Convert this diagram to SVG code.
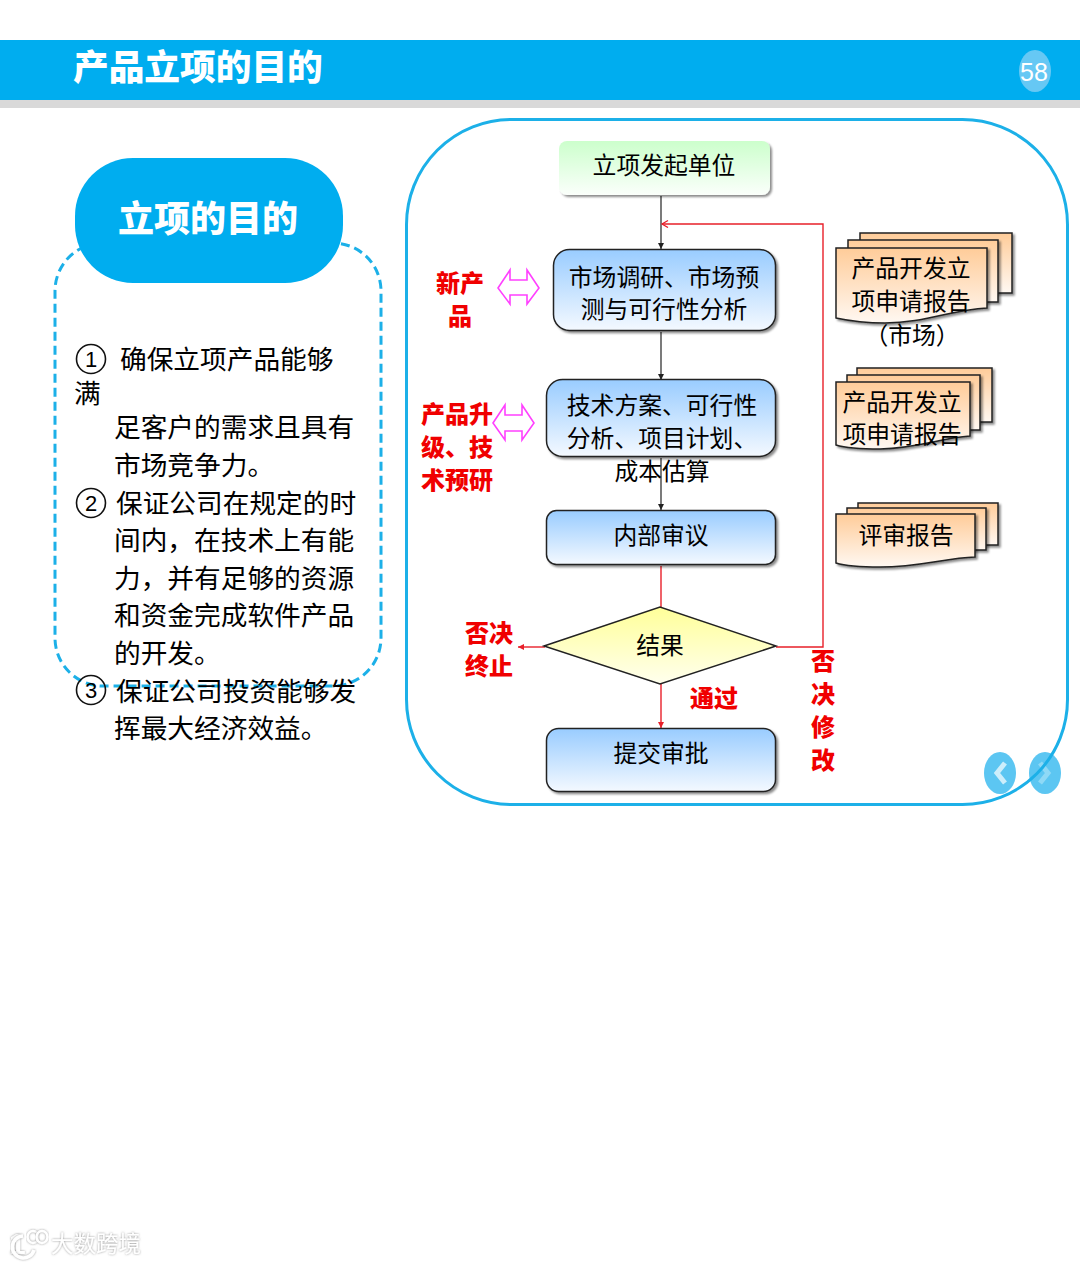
<svg xmlns="http://www.w3.org/2000/svg" width="1080" height="1263" viewBox="0 0 1080 1263">
<defs>
<linearGradient id="blue" x1="0" y1="0" x2="0" y2="1"><stop offset="0" stop-color="#99ccff"/><stop offset="1" stop-color="#f4f9ff"/></linearGradient>
<linearGradient id="green" x1="0" y1="0" x2="0" y2="1"><stop offset="0" stop-color="#ccffcc"/><stop offset="1" stop-color="#fbfffb"/></linearGradient>
<linearGradient id="yellow" x1="0" y1="0" x2="0" y2="1"><stop offset="0" stop-color="#ffff99"/><stop offset="1" stop-color="#ffffee"/></linearGradient>
<linearGradient id="orange" x1="0" y1="0" x2="0" y2="1"><stop offset="0" stop-color="#ffcc99"/><stop offset="1" stop-color="#fff8f2"/></linearGradient>
<marker id="ab" markerUnits="userSpaceOnUse" markerWidth="7" markerHeight="7" refX="6" refY="3" orient="auto"><path d="M0 0L6 3L0 6Z" fill="#222"/></marker>
<marker id="ar" markerUnits="userSpaceOnUse" markerWidth="7" markerHeight="7" refX="6" refY="3" orient="auto"><path d="M0 0L6 3L0 6Z" fill="#e8202a"/></marker>
<marker id="ao" markerUnits="userSpaceOnUse" markerWidth="9" markerHeight="9" refX="7" refY="4" orient="auto"><path d="M1 0.500L7 4L1 7.500" fill="none" stroke="#e8202a" stroke-width="1.3"/></marker>
<filter id="sh" x="-10%" y="-10%" width="120%" height="125%"><feDropShadow dx="2" dy="2" stdDeviation="1.2" flood-color="#000" flood-opacity=".45"/></filter>
<filter id="glow" x="-10%" y="-20%" width="120%" height="140%"><feDropShadow dx="0" dy="0" stdDeviation="1.2" flood-color="#777" flood-opacity=".8"/></filter>
</defs>
<style>
text{font-family:"Noto Sans CJK SC","Liberation Sans",sans-serif;fill:#000}
.n{font-size:26.700px}
.d{font-size:22px;text-anchor:middle;font-family:"Liberation Sans",sans-serif}
.c{fill:none;stroke:#111;stroke-width:1.6}
.b{font-size:23.800px;text-anchor:middle}
.red{font-size:24px;font-weight:900;fill:#f00000;text-anchor:middle}
.box{stroke:#222;stroke-width:1.5;fill:url(#blue);filter:url(#sh)}
.doc{stroke:#222;stroke-width:1.5;fill:url(#orange);filter:url(#sh)}
.pk{fill:#fff;stroke:#ff40ff;stroke-width:1.6}
.cb{stroke:#222;stroke-width:1.2;fill:none}
.cr{stroke:#e8202a;stroke-width:1.4;fill:none}
.wm{fill:#fff;filter:url(#glow)}
</style>
<rect width="1080" height="1263" fill="#fff"/>
<g id="header">
<rect y="40" width="1080" height="60" fill="#00adef"/>
<rect y="100" width="1080" height="8" fill="#d9d9d9"/>
<text x="73" y="80" font-size="35.700" font-weight="900" style="fill:#fff">产品立项的目的</text>
<ellipse cx="1035" cy="71" rx="16" ry="21" fill="#66c8f4"/>
<text x="1034" y="81" font-size="25" text-anchor="middle" style="fill:#fff;font-family:'Liberation Sans',sans-serif">58</text>
</g>
<g id="panel-left">
<rect x="55" y="243" width="326" height="443" rx="48" fill="none" stroke="#1cb0e8" stroke-width="3" stroke-dasharray="9 5"/>
<rect x="75" y="158" width="268" height="125" rx="58" fill="#00adef"/>
<text x="208" y="232" font-size="36" font-weight="900" text-anchor="middle" style="fill:#fff">立项的目的</text>
<circle class="c" cx="91" cy="359" r="14.500"/><text class="d" x="91" y="367">1</text>
<text class="n" x="120" y="369">确保立项产品能够</text>
<text class="n" x="74" y="403">满</text>
<text class="n" x="114" y="437">足客户的需求且具有</text>
<text class="n" x="114" y="475">市场竞争力。</text>
<circle class="c" cx="91" cy="503" r="14.500"/><text class="d" x="91" y="511">2</text>
<text class="n" x="116" y="513">保证公司在规定的时</text>
<text class="n" x="114" y="550">间内，在技术上有能</text>
<text class="n" x="114" y="588">力，并有足够的资源</text>
<text class="n" x="114" y="625">和资金完成软件产品</text>
<text class="n" x="114" y="663">的开发。</text>
<circle class="c" cx="91" cy="690" r="14.500"/><text class="d" x="91" y="698">3</text>
<text class="n" x="116" y="701">保证公司投资能够发</text>
<text class="n" x="114" y="738">挥最大经济效益。</text>
</g>
<g id="nav">
<ellipse cx="1000" cy="773" rx="16" ry="21" fill="#5cc6f2"/><path d="M1005 763L997 773L1005 783" fill="none" stroke="#cdeefb" stroke-width="5"/>
<ellipse cx="1045" cy="773" rx="16" ry="21" fill="#5cc6f2"/><path d="M1040 763L1048 773L1040 783" fill="none" stroke="#8fd9f6" stroke-width="5"/>
</g>
<rect id="panel-right" x="406.500" y="119.500" width="661" height="685" rx="105" fill="none" stroke="#1cb0e8" stroke-width="3"/>
<g id="connectors">
<path class="cb" d="M661 196V249" marker-end="url(#ab)"/>
<path class="cb" d="M661 332V380" marker-end="url(#ab)"/>
<path class="cb" d="M661 458V510" marker-end="url(#ab)"/>
<path class="cr" d="M661 566V607"/>
<path class="cr" d="M661 684V728" marker-end="url(#ar)"/>
<path class="cr" d="M545 647H518" marker-end="url(#ar)"/>
<path class="cr" d="M776 647H823V224H662" marker-end="url(#ao)"/>
</g>
<g id="n-start"><rect x="559" y="141" width="211" height="54" rx="8" fill="url(#green)" filter="url(#sh)"/><text class="b" x="664" y="174">立项发起单位</text></g>
<g id="n-market"><rect class="box" x="553.500" y="249.500" width="222" height="81" rx="16"/><text class="b" x="664" y="286">市场调研、市场预</text><text class="b" x="664" y="318">测与可行性分析</text></g>
<g id="n-tech"><rect class="box" x="546.500" y="379.500" width="229" height="77" rx="16"/><text class="b" x="662" y="414">技术方案、可行性</text><text class="b" x="662" y="447">分析、项目计划、</text><text class="b" x="662" y="480">成本估算</text></g>
<g id="n-review"><rect class="box" x="546.500" y="510.500" width="229" height="54" rx="10"/><text class="b" x="661" y="544">内部审议</text></g>
<g id="n-result"><path d="M544 646L660 607L776 646L660 684Z" fill="url(#yellow)" stroke="#222" stroke-width="1.500"/><text class="b" x="660" y="654">结果</text></g>
<g id="n-submit"><rect class="box" x="546.500" y="728.500" width="229" height="63" rx="12"/><text class="b" x="661" y="762">提交审批</text></g>
<g id="doc-1">
<path class="doc" d="M860 233H1012V293H860Z"/><path class="doc" d="M848 240H998V302H848Z"/>
<path class="doc" d="M836 248H987V308C950 310 925 323 885 323C865 323 850 321 836 318Z"/>
<text class="b" x="911" y="277">产品开发立</text><text class="b" x="911" y="310">项申请报告</text><text class="b" x="912" y="344">（市场）</text>
</g>
<g id="doc-2">
<path class="doc" d="M857 368H992V422H857Z"/><path class="doc" d="M847 375H980V430H847Z"/>
<path class="doc" d="M836 382H970V436C940 438 920 448 880 449C860 449 846 448 836 445Z"/>
<text class="b" x="902" y="411">产品开发立</text><text class="b" x="902" y="443">项申请报告</text>
</g>
<g id="doc-3">
<path class="doc" d="M858 503H998V545H858Z"/><path class="doc" d="M847 508H986V550H847Z"/>
<path class="doc" d="M836 514H975V557C945 558 920 567 880 567C860 567 846 566 836 563Z"/>
<text class="b" x="906" y="544">评审报告</text>
</g>
<g id="labels">
<path class="pk" d="M498 288L510 270V280H527V270L539 288L527 304V295H510V304Z"/>
<path class="pk" d="M493 423L505 405V415H522V405L534 423L522 440V431H505V440Z"/>
<text class="red" x="460" y="292">新产</text><text class="red" x="460" y="325">品</text>
<text class="red" x="457" y="423">产品升</text><text class="red" x="457" y="456">级、技</text><text class="red" x="457" y="489">术预研</text>
<text class="red" x="489" y="642">否决</text><text class="red" x="489" y="675">终止</text>
<text class="red" x="714" y="707">通过</text>
<text class="red" x="823" y="670">否</text><text class="red" x="823" y="703">决</text><text class="red" x="823" y="736">修</text><text class="red" x="823" y="769">改</text>
</g>
<g id="watermark">
<text class="wm" x="9" y="1254" font-size="30" font-weight="700" style="font-family:'Liberation Sans',sans-serif">1</text>
<path d="M23 1236A11 11 0 1 0 34 1250" fill="none" stroke="#fff" stroke-width="3.500" filter="url(#glow)"/>
<ellipse cx="33" cy="1237" rx="5.500" ry="6" fill="none" stroke="#fff" stroke-width="2.500" filter="url(#glow)"/>
<ellipse cx="42" cy="1237" rx="5.500" ry="6" fill="none" stroke="#fff" stroke-width="2.500" filter="url(#glow)"/>
<text class="wm" x="51" y="1252" font-size="22.500">大数跨境</text>
</g>
</svg>
